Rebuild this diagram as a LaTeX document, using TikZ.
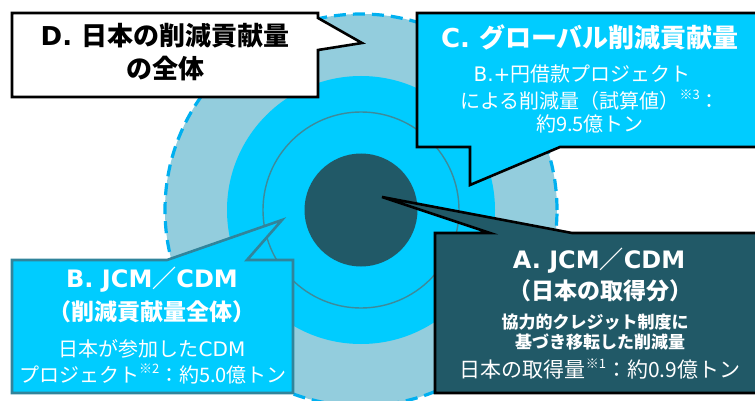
\documentclass[tikz,border=0pt]{standalone}
\usepackage{fontspec}
\setmainfont{Noto Sans CJK JP}
\newfontfamily\latf{DejaVu Sans}
\definecolor{outerc}{HTML}{93CDDD}
\definecolor{dashc}{HTML}{00B0F0}
\definecolor{cyanc}{HTML}{00CCFF}
\definecolor{ringc}{HTML}{3E8A9A}
\definecolor{darkc}{HTML}{215967}
\definecolor{bborder}{HTML}{31849B}
\newcommand{\fs}[1]{\fontsize{#1}{#1}\selectfont}
\newcommand{\lat}[1]{{\latf #1}}
\newcommand{\kome}[1]{\raisebox{0.45em}{\fs{13}※#1}}
\tikzset{
  bubble/.style={line width=2.6pt, line join=miter},
  txt/.style={inner sep=0pt, align=center},
  wtxt/.style={txt, text=white},
}
\begin{document}
\begin{tikzpicture}[x=1pt,y=-1pt]
\useasboundingbox (0,0) rectangle (755,401);
\clip (0,0) rectangle (755,401);
% target circles
\coordinate (ctr) at (361,210);
\fill[outerc] (ctr) circle[radius=196pt];
\draw[dashc, line width=3.2pt, dash pattern=on 12pt off 7pt] (ctr) circle[radius=196pt];
\fill[cyanc] (ctr) circle[radius=134pt];
\draw[ringc, line width=1.4pt] (ctr) circle[radius=98pt];
\fill[darkc] (ctr) circle[radius=56.5pt];
% callout D
\draw[bubble, fill=white, draw=black] (12,13) -- (318,13) -- (318,18) -- (362,43) -- (318,50) -- (318,97) -- (12,97) -- cycle;
\node[txt] (d1) at (165,36) {\fs{26}\bfseries \lat{D. }日本の削減貢献量};
\node[txt] (d2) at (165,69) {\fs{26}\bfseries の全体};
% callout C
\draw[bubble, fill=cyanc, draw=black] (417,13) -- (762,13) -- (762,147) -- (560,147) -- (470,185) -- (470,147) -- (417,147) -- cycle;
\node[wtxt] (c1) at (590,37) {\fs{26}\bfseries \lat{C. }グローバル削減貢献量};
\node[wtxt] (c2) at (582,74) {\fs{20}\lat{B.+}円借款プロジェクト};
\node[wtxt] (c3) at (590,100) {\fs{20}による削減量（試算値）\kome{3}：};
\node[wtxt] (c4) at (590,124) {\fs{20}約9.5億トン};
% callout B
\draw[bubble, fill=cyanc, draw=bborder] (12,260) -- (167,260) -- (282,220) -- (247,260) -- (293,260) -- (293,393) -- (12,393) -- cycle;
\node[wtxt] (b1) at (152,280) {\fs{24}\bfseries \lat{B. JCM}／\lat{CDM}};
\node[wtxt] (b2) at (152,312) {\fs{23}\bfseries （削減貢献量全体）};
\node[wtxt] (b3) at (152,349) {\fs{20}日本が参加した\lat{CDM}};
\node[wtxt] (b4) at (153,374) {\fs{20}プロジェクト\kome{2}：約5.0億トン};
% callout A
\draw[bubble, fill=darkc, draw=black] (435,233) -- (490,233) -- (382,197) -- (572,233) -- (762,233) -- (762,393) -- (435,393) -- cycle;
\node[wtxt] (a1) at (599,261) {\fs{24}\bfseries \lat{A. JCM}／\lat{CDM}};
\node[wtxt] (a2) at (600,291) {\fs{23}\bfseries （日本の取得分）};
\node[wtxt] (a3) at (595,322) {\fs{17}\bfseries 協力的クレジット制度に};
\node[wtxt] (a4) at (600,342) {\fs{17}\bfseries 基づき移転した削減量};
\node[wtxt] (a5) at (600,369) {\fs{21}日本の取得量\kome{1}：約0.9億トン};
\end{tikzpicture}
\end{document}
